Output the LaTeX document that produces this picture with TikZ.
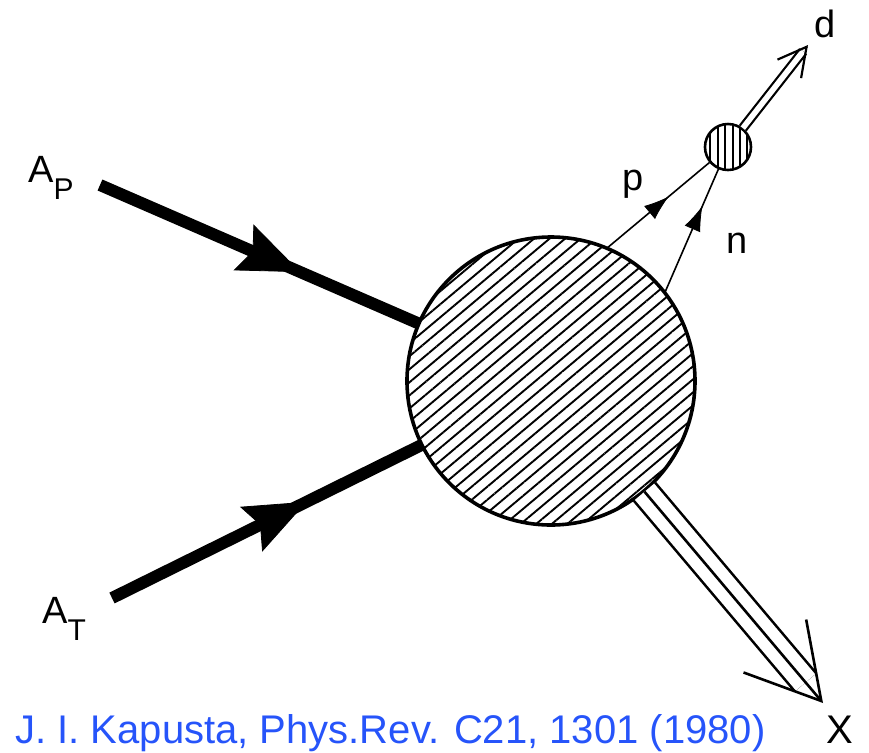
\documentclass[tikz,border=0pt]{standalone}
\usepackage{fontspec}
\setmainfont{Liberation Sans}
\usepackage{tikz}
\usetikzlibrary{arrows.meta,patterns.meta,decorations.markings,calc}
\tikzset{blob/.style={circle, draw, line width=1.8pt, inner sep=0pt, minimum size=144pt, preaction={fill=white}, pattern={Lines[angle=40, distance=5pt, line width=0.95pt]}}}
\tikzset{deutblob/.style={circle, draw, line width=1.3pt, inner sep=0pt, minimum size=23pt, preaction={fill=white}, pattern={Lines[angle=90, distance=3.7pt, line width=1pt]}}}
\tikzset{beam/.style={line width=6pt, postaction={decorate}, decoration={markings, mark=at position 0.63 with {\arrow{Stealth[length=31pt, width=25pt, inset=5pt, line width=0.4pt]}}}}}
\tikzset{nucl/.style={line width=0.8pt, postaction={decorate}, decoration={markings, mark=at position #1 with {\arrow{Latex[length=12.5pt, width=8.5pt, line width=0.4pt]}}}}}
\tikzset{pipe/.style={double, double distance=12.6pt, line width=1.3pt, shorten >=13.5pt}}
\tikzset{pipemid/.style={line width=1.3pt, -{Straight Barb[length=36pt, width=41pt, line width=1.3pt]}}}
\tikzset{dpipe/.style={double, double distance=2.8pt, line width=1.1pt, shorten >=4pt}}
\tikzset{dhead/.style={line width=1.1pt, -{Straight Barb[length=14pt, width=15pt, line width=1.1pt]}}}
\tikzset{lab/.style={anchor=base west, inner sep=0pt, font=\fontsize{19}{19}\selectfont}}
\definecolor{cref}{RGB}{38,84,250}

\begin{document}
\begin{tikzpicture}[x=0.5pt, y=-0.5pt]
        \useasboundingbox (0,0) rectangle (869,752);

        %%% BLOBS %%%
        \node[blob] (blob) at (551,381) {};
        \node[deutblob] (deut) at (728,147) {};

        %%% FREE ENDS %%%
        \coordinate (apin) at (100,185);
        \coordinate (atin) at (112,598);
        \coordinate (dtip) at (808,45);
        \coordinate (xtip) at (823,703);

        %%% LABELS %%%
        \node[lab] (aplab) at (28,182) {A\raisebox{-8.5pt}{\fontsize{15}{15}\selectfont P}};
        \node[lab] (atlab) at (42,623) {A\raisebox{-8.5pt}{\fontsize{15}{15}\selectfont T}};
        \node[lab] (plab) at (622,190) {p};
        \node[lab] (nlab) at (726,253) {n};
        \node[lab] (dlab) at (814,37) {d};
        \node[lab, font=\fontsize{20}{20}\selectfont] (xlab) at (826,743) {X};
        \node[anchor=base west, inner sep=0pt, text=cref, font=\fontsize{20}{20}\selectfont] (cite) at (15,743)
            {J. I. Kapusta, Phys.Rev. C21, 1301 (1980)};

        %%% ARROWS %%%
        \draw[beam] (apin) -- (blob);
        \draw[beam] (atin) -- (blob);
        \draw[nucl=0.6] (blob.67) -- (deut);
        \draw[nucl=0.7] (blob.38) -- (deut);
        \draw[dpipe] (deut) -- (dtip);
        \draw[dhead] ($(dtip)!1pt!(deut)$) -- (dtip);
        \draw[pipe] (blob) -- (xtip);
        \draw[pipemid] (blob) -- (xtip);
    \end{tikzpicture}
\end{document}
